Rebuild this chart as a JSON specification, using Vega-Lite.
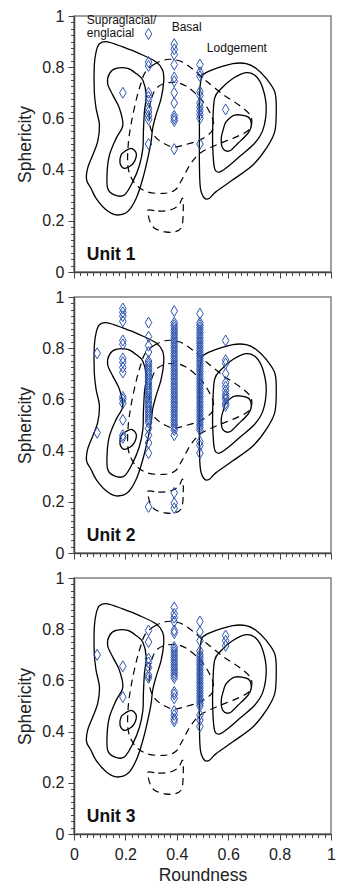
{
"$schema": "https://vega.github.io/schema/vega-lite/v6.json",
"background": "white",
"padding": {"left": 16, "top": 7, "right": 12, "bottom": 5},
"spacing": 25,
"bounds": "flush",
"config": {
 "font": "Liberation Sans",
 "view": {"stroke": "#808080", "strokeWidth": 1.5},
 "axis": {"grid": false, "domainColor": "#444", "domainWidth": 1.5, "tickColor": "#444", "labelColor": "#222", "titleColor": "#222", "labelFontSize": 16, "titleFontSize": 17.5, "titleFontWeight": "normal", "labelFont": "Liberation Sans", "titleFont": "Liberation Sans", "labelOverlap": false, "labelFlush": false}
},
"datasets": {
 "contours": [
  {"c":1,"s":"solid","i":1,"x":0.086,"y":0.86},{"c":1,"s":"solid","i":2,"x":0.099,"y":0.892},{"c":1,"s":"solid","i":3,"x":0.131,"y":0.899},{"c":1,"s":"solid","i":4,"x":0.19,"y":0.879},{"c":1,"s":"solid","i":5,"x":0.255,"y":0.853},{"c":1,"s":"solid","i":6,"x":0.319,"y":0.821},{"c":1,"s":"solid","i":7,"x":0.345,"y":0.788},{"c":1,"s":"solid","i":8,"x":0.349,"y":0.743},{"c":1,"s":"solid","i":9,"x":0.339,"y":0.678},{"c":1,"s":"solid","i":10,"x":0.319,"y":0.613},{"c":1,"s":"solid","i":11,"x":0.306,"y":0.561},{"c":1,"s":"solid","i":12,"x":0.3,"y":0.509},{"c":1,"s":"solid","i":13,"x":0.287,"y":0.444},{"c":1,"s":"solid","i":14,"x":0.268,"y":0.366},{"c":1,"s":"solid","i":15,"x":0.242,"y":0.288},{"c":1,"s":"solid","i":16,"x":0.209,"y":0.236},{"c":1,"s":"solid","i":17,"x":0.164,"y":0.223},{"c":1,"s":"solid","i":18,"x":0.125,"y":0.243},{"c":1,"s":"solid","i":19,"x":0.086,"y":0.288},{"c":1,"s":"solid","i":20,"x":0.066,"y":0.327},{"c":1,"s":"solid","i":21,"x":0.049,"y":0.36},{"c":1,"s":"solid","i":22,"x":0.053,"y":0.405},{"c":1,"s":"solid","i":23,"x":0.073,"y":0.457},{"c":1,"s":"solid","i":24,"x":0.092,"y":0.509},{"c":1,"s":"solid","i":25,"x":0.099,"y":0.574},{"c":1,"s":"solid","i":26,"x":0.086,"y":0.639},{"c":1,"s":"solid","i":27,"x":0.079,"y":0.704},{"c":1,"s":"solid","i":28,"x":0.079,"y":0.808},
  {"c":2,"s":"solid","i":1,"x":0.138,"y":0.775},{"c":2,"s":"solid","i":2,"x":0.164,"y":0.795},{"c":2,"s":"solid","i":3,"x":0.209,"y":0.795},{"c":2,"s":"solid","i":4,"x":0.242,"y":0.775},{"c":2,"s":"solid","i":5,"x":0.268,"y":0.749},{"c":2,"s":"solid","i":6,"x":0.281,"y":0.691},{"c":2,"s":"solid","i":7,"x":0.274,"y":0.626},{"c":2,"s":"solid","i":8,"x":0.27,"y":0.548},{"c":2,"s":"solid","i":9,"x":0.268,"y":0.483},{"c":2,"s":"solid","i":10,"x":0.255,"y":0.418},{"c":2,"s":"solid","i":11,"x":0.229,"y":0.353},{"c":2,"s":"solid","i":12,"x":0.196,"y":0.301},{"c":2,"s":"solid","i":13,"x":0.157,"y":0.301},{"c":2,"s":"solid","i":14,"x":0.131,"y":0.327},{"c":2,"s":"solid","i":15,"x":0.129,"y":0.392},{"c":2,"s":"solid","i":16,"x":0.138,"y":0.457},{"c":2,"s":"solid","i":17,"x":0.164,"y":0.522},{"c":2,"s":"solid","i":18,"x":0.19,"y":0.574},{"c":2,"s":"solid","i":19,"x":0.177,"y":0.639},{"c":2,"s":"solid","i":20,"x":0.151,"y":0.691},{"c":2,"s":"solid","i":21,"x":0.131,"y":0.736},
  {"c":3,"s":"solid","i":1,"x":0.196,"y":0.47},{"c":3,"s":"solid","i":2,"x":0.222,"y":0.483},{"c":3,"s":"solid","i":3,"x":0.242,"y":0.464},{"c":3,"s":"solid","i":4,"x":0.235,"y":0.431},{"c":3,"s":"solid","i":5,"x":0.216,"y":0.412},{"c":3,"s":"solid","i":6,"x":0.194,"y":0.405},{"c":3,"s":"solid","i":7,"x":0.179,"y":0.425},{"c":3,"s":"solid","i":8,"x":0.183,"y":0.457},
  {"c":4,"s":"solid","i":1,"x":0.495,"y":0.756},{"c":4,"s":"solid","i":2,"x":0.508,"y":0.775},{"c":4,"s":"solid","i":3,"x":0.553,"y":0.795},{"c":4,"s":"solid","i":4,"x":0.618,"y":0.814},{"c":4,"s":"solid","i":5,"x":0.67,"y":0.814},{"c":4,"s":"solid","i":6,"x":0.709,"y":0.795},{"c":4,"s":"solid","i":7,"x":0.748,"y":0.756},{"c":4,"s":"solid","i":8,"x":0.781,"y":0.704},{"c":4,"s":"solid","i":9,"x":0.787,"y":0.639},{"c":4,"s":"solid","i":10,"x":0.781,"y":0.548},{"c":4,"s":"solid","i":11,"x":0.748,"y":0.483},{"c":4,"s":"solid","i":12,"x":0.696,"y":0.418},{"c":4,"s":"solid","i":13,"x":0.618,"y":0.36},{"c":4,"s":"solid","i":14,"x":0.553,"y":0.314},{"c":4,"s":"solid","i":15,"x":0.527,"y":0.288},{"c":4,"s":"solid","i":16,"x":0.508,"y":0.288},{"c":4,"s":"solid","i":17,"x":0.492,"y":0.327},{"c":4,"s":"solid","i":18,"x":0.488,"y":0.418},{"c":4,"s":"solid","i":19,"x":0.488,"y":0.548},{"c":4,"s":"solid","i":20,"x":0.488,"y":0.678},
  {"c":5,"s":"solid","i":1,"x":0.547,"y":0.678},{"c":5,"s":"solid","i":2,"x":0.573,"y":0.717},{"c":5,"s":"solid","i":3,"x":0.618,"y":0.756},{"c":5,"s":"solid","i":4,"x":0.67,"y":0.779},{"c":5,"s":"solid","i":5,"x":0.709,"y":0.764},{"c":5,"s":"solid","i":6,"x":0.735,"y":0.717},{"c":5,"s":"solid","i":7,"x":0.748,"y":0.639},{"c":5,"s":"solid","i":8,"x":0.735,"y":0.555},{"c":5,"s":"solid","i":9,"x":0.703,"y":0.503},{"c":5,"s":"solid","i":10,"x":0.644,"y":0.451},{"c":5,"s":"solid","i":11,"x":0.599,"y":0.412},{"c":5,"s":"solid","i":12,"x":0.566,"y":0.39},{"c":5,"s":"solid","i":13,"x":0.547,"y":0.405},{"c":5,"s":"solid","i":14,"x":0.54,"y":0.483},{"c":5,"s":"solid","i":15,"x":0.54,"y":0.574},
  {"c":6,"s":"solid","i":1,"x":0.592,"y":0.587},{"c":6,"s":"solid","i":2,"x":0.625,"y":0.613},{"c":6,"s":"solid","i":3,"x":0.677,"y":0.606},{"c":6,"s":"solid","i":4,"x":0.69,"y":0.574},{"c":6,"s":"solid","i":5,"x":0.677,"y":0.542},{"c":6,"s":"solid","i":6,"x":0.638,"y":0.503},{"c":6,"s":"solid","i":7,"x":0.605,"y":0.473},{"c":6,"s":"solid","i":8,"x":0.579,"y":0.483},{"c":6,"s":"solid","i":9,"x":0.573,"y":0.522},{"c":6,"s":"solid","i":10,"x":0.582,"y":0.561},
  {"c":7,"s":"dashed","i":1,"x":0.276,"y":0.778},{"c":7,"s":"dashed","i":2,"x":0.309,"y":0.81},{"c":7,"s":"dashed","i":3,"x":0.361,"y":0.83},{"c":7,"s":"dashed","i":4,"x":0.412,"y":0.824},{"c":7,"s":"dashed","i":5,"x":0.464,"y":0.791},{"c":7,"s":"dashed","i":6,"x":0.516,"y":0.745},{"c":7,"s":"dashed","i":7,"x":0.581,"y":0.693},{"c":7,"s":"dashed","i":8,"x":0.639,"y":0.654},{"c":7,"s":"dashed","i":9,"x":0.685,"y":0.614},{"c":7,"s":"dashed","i":10,"x":0.691,"y":0.575},{"c":7,"s":"dashed","i":11,"x":0.672,"y":0.549},{"c":7,"s":"dashed","i":12,"x":0.62,"y":0.523},{"c":7,"s":"dashed","i":13,"x":0.555,"y":0.497},{"c":7,"s":"dashed","i":14,"x":0.49,"y":0.464},{"c":7,"s":"dashed","i":15,"x":0.451,"y":0.418},{"c":7,"s":"dashed","i":16,"x":0.419,"y":0.359},{"c":7,"s":"dashed","i":17,"x":0.393,"y":0.32},{"c":7,"s":"dashed","i":18,"x":0.348,"y":0.307},{"c":7,"s":"dashed","i":19,"x":0.283,"y":0.314},{"c":7,"s":"dashed","i":20,"x":0.237,"y":0.346},{"c":7,"s":"dashed","i":21,"x":0.211,"y":0.405},{"c":7,"s":"dashed","i":22,"x":0.211,"y":0.497},{"c":7,"s":"dashed","i":23,"x":0.224,"y":0.588},{"c":7,"s":"dashed","i":24,"x":0.244,"y":0.68},{"c":7,"s":"dashed","i":25,"x":0.263,"y":0.745},
  {"c":8,"s":"dashed","i":1,"x":0.293,"y":0.627},{"c":8,"s":"dashed","i":2,"x":0.302,"y":0.68},{"c":8,"s":"dashed","i":3,"x":0.328,"y":0.725},{"c":8,"s":"dashed","i":4,"x":0.387,"y":0.741},{"c":8,"s":"dashed","i":5,"x":0.438,"y":0.725},{"c":8,"s":"dashed","i":6,"x":0.49,"y":0.68},{"c":8,"s":"dashed","i":7,"x":0.523,"y":0.634},{"c":8,"s":"dashed","i":8,"x":0.542,"y":0.588},{"c":8,"s":"dashed","i":9,"x":0.536,"y":0.549},{"c":8,"s":"dashed","i":10,"x":0.49,"y":0.516},{"c":8,"s":"dashed","i":11,"x":0.432,"y":0.497},{"c":8,"s":"dashed","i":12,"x":0.387,"y":0.488},{"c":8,"s":"dashed","i":13,"x":0.348,"y":0.503},{"c":8,"s":"dashed","i":14,"x":0.315,"y":0.529},{"c":8,"s":"dashed","i":15,"x":0.296,"y":0.569},
  {"c":9,"s":"dashed","i":1,"x":0.289,"y":0.242},{"c":9,"s":"dashed","i":2,"x":0.328,"y":0.238},{"c":9,"s":"dashed","i":3,"x":0.374,"y":0.242},{"c":9,"s":"dashed","i":4,"x":0.406,"y":0.259},{"c":9,"s":"dashed","i":5,"x":0.423,"y":0.288},{"c":9,"s":"dashed","i":6,"x":0.425,"y":0.235},{"c":9,"s":"dashed","i":7,"x":0.419,"y":0.176},{"c":9,"s":"dashed","i":8,"x":0.393,"y":0.157},{"c":9,"s":"dashed","i":9,"x":0.354,"y":0.157},{"c":9,"s":"dashed","i":10,"x":0.315,"y":0.17},{"c":9,"s":"dashed","i":11,"x":0.296,"y":0.196},{"c":9,"s":"dashed","i":12,"x":0.289,"y":0.222}
 ],
 "pts": [
  {"u":1,"x":0.19,"y":0.70},
  {"u":1,"x":0.29,"y":0.93},{"u":1,"x":0.29,"y":0.82},{"u":1,"x":0.29,"y":0.805},{"u":1,"x":0.29,"y":0.70},{"u":1,"x":0.29,"y":0.685},{"u":1,"x":0.29,"y":0.67},{"u":1,"x":0.29,"y":0.64},{"u":1,"x":0.29,"y":0.625},{"u":1,"x":0.29,"y":0.61},{"u":1,"x":0.29,"y":0.595},{"u":1,"x":0.29,"y":0.50},
  {"u":1,"x":0.39,"y":0.89},{"u":1,"x":0.39,"y":0.87},{"u":1,"x":0.39,"y":0.85},{"u":1,"x":0.39,"y":0.81},{"u":1,"x":0.39,"y":0.76},{"u":1,"x":0.39,"y":0.745},{"u":1,"x":0.39,"y":0.70},{"u":1,"x":0.39,"y":0.66},{"u":1,"x":0.39,"y":0.61},{"u":1,"x":0.39,"y":0.60},{"u":1,"x":0.39,"y":0.59},{"u":1,"x":0.39,"y":0.48},
  {"u":1,"x":0.49,"y":0.81},{"u":1,"x":0.49,"y":0.78},{"u":1,"x":0.49,"y":0.765},{"u":1,"x":0.49,"y":0.705},{"u":1,"x":0.49,"y":0.69},{"u":1,"x":0.49,"y":0.66},{"u":1,"x":0.49,"y":0.645},{"u":1,"x":0.49,"y":0.63},{"u":1,"x":0.49,"y":0.615},{"u":1,"x":0.49,"y":0.60},{"u":1,"x":0.49,"y":0.50},
  {"u":1,"x":0.59,"y":0.635},
  {"u":2,"x":0.09,"y":0.78},{"u":2,"x":0.09,"y":0.47},
  {"u":2,"x":0.19,"y":0.955},{"u":2,"x":0.19,"y":0.94},{"u":2,"x":0.19,"y":0.925},{"u":2,"x":0.19,"y":0.905},{"u":2,"x":0.19,"y":0.83},{"u":2,"x":0.19,"y":0.815},{"u":2,"x":0.19,"y":0.76},{"u":2,"x":0.19,"y":0.745},{"u":2,"x":0.19,"y":0.725},{"u":2,"x":0.19,"y":0.705},{"u":2,"x":0.19,"y":0.61},{"u":2,"x":0.19,"y":0.60},{"u":2,"x":0.19,"y":0.585},{"u":2,"x":0.19,"y":0.52},{"u":2,"x":0.19,"y":0.46},{"u":2,"x":0.19,"y":0.45},
  {"u":2,"x":0.29,"y":0.90},{"u":2,"x":0.29,"y":0.845},{"u":2,"x":0.29,"y":0.81},{"u":2,"x":0.29,"y":0.785},{"u":2,"x":0.29,"y":0.75},{"u":2,"x":0.29,"y":0.74},{"u":2,"x":0.29,"y":0.73},{"u":2,"x":0.29,"y":0.72},{"u":2,"x":0.29,"y":0.71},{"u":2,"x":0.29,"y":0.70},{"u":2,"x":0.29,"y":0.69},{"u":2,"x":0.29,"y":0.68},{"u":2,"x":0.29,"y":0.67},{"u":2,"x":0.29,"y":0.66},{"u":2,"x":0.29,"y":0.65},{"u":2,"x":0.29,"y":0.64},{"u":2,"x":0.29,"y":0.63},{"u":2,"x":0.29,"y":0.62},{"u":2,"x":0.29,"y":0.61},{"u":2,"x":0.29,"y":0.60},{"u":2,"x":0.29,"y":0.59},{"u":2,"x":0.29,"y":0.58},{"u":2,"x":0.29,"y":0.57},{"u":2,"x":0.29,"y":0.56},{"u":2,"x":0.29,"y":0.55},{"u":2,"x":0.29,"y":0.54},{"u":2,"x":0.29,"y":0.53},{"u":2,"x":0.29,"y":0.52},{"u":2,"x":0.29,"y":0.51},{"u":2,"x":0.29,"y":0.487},{"u":2,"x":0.29,"y":0.46},{"u":2,"x":0.29,"y":0.43},{"u":2,"x":0.29,"y":0.39},{"u":2,"x":0.29,"y":0.18},
  {"u":2,"x":0.39,"y":0.945},{"u":2,"x":0.39,"y":0.90},{"u":2,"x":0.39,"y":0.89},{"u":2,"x":0.39,"y":0.88},{"u":2,"x":0.39,"y":0.87},{"u":2,"x":0.39,"y":0.86},{"u":2,"x":0.39,"y":0.85},{"u":2,"x":0.39,"y":0.84},{"u":2,"x":0.39,"y":0.83},{"u":2,"x":0.39,"y":0.82},{"u":2,"x":0.39,"y":0.81},{"u":2,"x":0.39,"y":0.80},{"u":2,"x":0.39,"y":0.79},{"u":2,"x":0.39,"y":0.78},{"u":2,"x":0.39,"y":0.77},{"u":2,"x":0.39,"y":0.76},{"u":2,"x":0.39,"y":0.75},{"u":2,"x":0.39,"y":0.74},{"u":2,"x":0.39,"y":0.73},{"u":2,"x":0.39,"y":0.72},{"u":2,"x":0.39,"y":0.71},{"u":2,"x":0.39,"y":0.70},{"u":2,"x":0.39,"y":0.69},{"u":2,"x":0.39,"y":0.68},{"u":2,"x":0.39,"y":0.67},{"u":2,"x":0.39,"y":0.66},{"u":2,"x":0.39,"y":0.65},{"u":2,"x":0.39,"y":0.64},{"u":2,"x":0.39,"y":0.63},{"u":2,"x":0.39,"y":0.62},{"u":2,"x":0.39,"y":0.61},{"u":2,"x":0.39,"y":0.60},{"u":2,"x":0.39,"y":0.59},{"u":2,"x":0.39,"y":0.58},{"u":2,"x":0.39,"y":0.57},{"u":2,"x":0.39,"y":0.56},{"u":2,"x":0.39,"y":0.55},{"u":2,"x":0.39,"y":0.54},{"u":2,"x":0.39,"y":0.53},{"u":2,"x":0.39,"y":0.52},{"u":2,"x":0.39,"y":0.51},{"u":2,"x":0.39,"y":0.50},{"u":2,"x":0.39,"y":0.49},{"u":2,"x":0.39,"y":0.48},{"u":2,"x":0.39,"y":0.46},{"u":2,"x":0.39,"y":0.235},{"u":2,"x":0.39,"y":0.195},{"u":2,"x":0.39,"y":0.175},
  {"u":2,"x":0.49,"y":0.935},{"u":2,"x":0.49,"y":0.90},{"u":2,"x":0.49,"y":0.89},{"u":2,"x":0.49,"y":0.88},{"u":2,"x":0.49,"y":0.87},{"u":2,"x":0.49,"y":0.86},{"u":2,"x":0.49,"y":0.85},{"u":2,"x":0.49,"y":0.84},{"u":2,"x":0.49,"y":0.83},{"u":2,"x":0.49,"y":0.82},{"u":2,"x":0.49,"y":0.81},{"u":2,"x":0.49,"y":0.80},{"u":2,"x":0.49,"y":0.79},{"u":2,"x":0.49,"y":0.78},{"u":2,"x":0.49,"y":0.77},{"u":2,"x":0.49,"y":0.76},{"u":2,"x":0.49,"y":0.75},{"u":2,"x":0.49,"y":0.74},{"u":2,"x":0.49,"y":0.73},{"u":2,"x":0.49,"y":0.72},{"u":2,"x":0.49,"y":0.71},{"u":2,"x":0.49,"y":0.70},{"u":2,"x":0.49,"y":0.69},{"u":2,"x":0.49,"y":0.68},{"u":2,"x":0.49,"y":0.67},{"u":2,"x":0.49,"y":0.66},{"u":2,"x":0.49,"y":0.65},{"u":2,"x":0.49,"y":0.64},{"u":2,"x":0.49,"y":0.63},{"u":2,"x":0.49,"y":0.62},{"u":2,"x":0.49,"y":0.61},{"u":2,"x":0.49,"y":0.60},{"u":2,"x":0.49,"y":0.59},{"u":2,"x":0.49,"y":0.58},{"u":2,"x":0.49,"y":0.57},{"u":2,"x":0.49,"y":0.56},{"u":2,"x":0.49,"y":0.55},{"u":2,"x":0.49,"y":0.54},{"u":2,"x":0.49,"y":0.53},{"u":2,"x":0.49,"y":0.52},{"u":2,"x":0.49,"y":0.51},{"u":2,"x":0.49,"y":0.50},{"u":2,"x":0.49,"y":0.49},{"u":2,"x":0.49,"y":0.48},{"u":2,"x":0.49,"y":0.435},{"u":2,"x":0.49,"y":0.42},{"u":2,"x":0.49,"y":0.39},
  {"u":2,"x":0.59,"y":0.83},{"u":2,"x":0.59,"y":0.753},{"u":2,"x":0.59,"y":0.74},{"u":2,"x":0.59,"y":0.70},{"u":2,"x":0.59,"y":0.665},{"u":2,"x":0.59,"y":0.65},{"u":2,"x":0.59,"y":0.635},{"u":2,"x":0.59,"y":0.62},{"u":2,"x":0.59,"y":0.61},{"u":2,"x":0.59,"y":0.60},{"u":2,"x":0.59,"y":0.585},{"u":2,"x":0.59,"y":0.575},
  {"u":3,"x":0.09,"y":0.70},
  {"u":3,"x":0.19,"y":0.655},{"u":3,"x":0.19,"y":0.535},
  {"u":3,"x":0.29,"y":0.795},{"u":3,"x":0.29,"y":0.75},{"u":3,"x":0.29,"y":0.685},{"u":3,"x":0.29,"y":0.67},{"u":3,"x":0.29,"y":0.65},{"u":3,"x":0.29,"y":0.62},{"u":3,"x":0.29,"y":0.61},
  {"u":3,"x":0.39,"y":0.885},{"u":3,"x":0.39,"y":0.86},{"u":3,"x":0.39,"y":0.845},{"u":3,"x":0.39,"y":0.83},{"u":3,"x":0.39,"y":0.795},{"u":3,"x":0.39,"y":0.785},{"u":3,"x":0.39,"y":0.73},{"u":3,"x":0.39,"y":0.72},{"u":3,"x":0.39,"y":0.71},{"u":3,"x":0.39,"y":0.70},{"u":3,"x":0.39,"y":0.69},{"u":3,"x":0.39,"y":0.68},{"u":3,"x":0.39,"y":0.67},{"u":3,"x":0.39,"y":0.66},{"u":3,"x":0.39,"y":0.65},{"u":3,"x":0.39,"y":0.64},{"u":3,"x":0.39,"y":0.63},{"u":3,"x":0.39,"y":0.62},{"u":3,"x":0.39,"y":0.61},{"u":3,"x":0.39,"y":0.555},{"u":3,"x":0.39,"y":0.545},{"u":3,"x":0.39,"y":0.53},{"u":3,"x":0.39,"y":0.48},{"u":3,"x":0.39,"y":0.465},{"u":3,"x":0.39,"y":0.45},{"u":3,"x":0.39,"y":0.44},
  {"u":3,"x":0.49,"y":0.83},{"u":3,"x":0.49,"y":0.79},{"u":3,"x":0.49,"y":0.755},{"u":3,"x":0.49,"y":0.715},{"u":3,"x":0.49,"y":0.70},{"u":3,"x":0.49,"y":0.69},{"u":3,"x":0.49,"y":0.68},{"u":3,"x":0.49,"y":0.67},{"u":3,"x":0.49,"y":0.66},{"u":3,"x":0.49,"y":0.65},{"u":3,"x":0.49,"y":0.64},{"u":3,"x":0.49,"y":0.63},{"u":3,"x":0.49,"y":0.62},{"u":3,"x":0.49,"y":0.61},{"u":3,"x":0.49,"y":0.60},{"u":3,"x":0.49,"y":0.59},{"u":3,"x":0.49,"y":0.58},{"u":3,"x":0.49,"y":0.57},{"u":3,"x":0.49,"y":0.56},{"u":3,"x":0.49,"y":0.55},{"u":3,"x":0.49,"y":0.54},{"u":3,"x":0.49,"y":0.53},{"u":3,"x":0.49,"y":0.52},{"u":3,"x":0.49,"y":0.51},{"u":3,"x":0.49,"y":0.50},{"u":3,"x":0.49,"y":0.465},{"u":3,"x":0.49,"y":0.445},{"u":3,"x":0.49,"y":0.42},
  {"u":3,"x":0.59,"y":0.775},{"u":3,"x":0.59,"y":0.755},{"u":3,"x":0.59,"y":0.735}
 ],
 "units": [
  {"u":1,"x":0.05,"y":0.047,"t":"Unit 1"},{"u":2,"x":0.05,"y":0.047,"t":"Unit 2"},{"u":3,"x":0.05,"y":0.047,"t":"Unit 3"}
 ],
 "notes": [
  {"x":0.05,"y":0.968,"t":"Supraglacial/"},{"x":0.05,"y":0.918,"t":"englacial"},{"x":0.38,"y":0.94,"t":"Basal"},{"x":0.517,"y":0.86,"t":"Lodgement"}
 ]
},
"vconcat": [
 {
  "width": 257, "height": 256,
  "layer": [
   {"data": {"name": "contours"}, "transform": [{"filter": "datum.s === 'solid'"}],
    "mark": {"type": "line", "interpolate": "cardinal-closed", "stroke": "#000", "strokeWidth": 1.3},
    "encoding": {
     "x": {"field": "x", "type": "quantitative", "scale": {"domain": [0, 1], "nice": false}, "axis": {"orient": "bottom", "values": [0,0.025,0.05,0.075,0.1,0.125,0.15,0.175,0.2,0.225,0.25,0.275,0.3,0.325,0.35,0.375,0.4,0.425,0.45,0.475,0.5,0.525,0.55,0.575,0.6,0.625,0.65,0.675,0.7,0.725,0.75,0.775,0.8,0.825,0.85,0.875,0.9,0.925,0.95,0.975,1], "labels": false, "title": null, "domain": false, "tickSize": 3.5}},
     "y": {"field": "y", "type": "quantitative", "scale": {"domain": [0, 1], "nice": false}, "axis": {"orient": "left", "values": [0,0.025,0.05,0.075,0.1,0.125,0.15,0.175,0.2,0.225,0.25,0.275,0.3,0.325,0.35,0.375,0.4,0.425,0.45,0.475,0.5,0.525,0.55,0.575,0.6,0.625,0.65,0.675,0.7,0.725,0.75,0.775,0.8,0.825,0.85,0.875,0.9,0.925,0.95,0.975,1], "labels": false, "title": null, "domain": false, "tickSize": 3.5}},
     "detail": {"field": "c"}, "order": {"field": "i"}}},
   {"data": {"name": "contours"}, "transform": [{"filter": "datum.s === 'dashed'"}],
    "mark": {"type": "line", "interpolate": "cardinal-closed", "stroke": "#000", "strokeWidth": 1.2, "strokeDash": [7, 5]},
    "encoding": {
     "x": {"field": "x", "type": "quantitative", "axis": {"orient": "bottom", "values": [0,0.2,0.4,0.6,0.8,1], "labels": false, "title": null, "tickSize": 6}},
     "y": {"field": "y", "type": "quantitative", "axis": {"orient": "left", "values": [0,0.2,0.4,0.6,0.8,1], "format": "~g", "title": "Sphericity", "tickSize": 6, "labelPadding": 4, "titlePadding": 7}},
     "detail": {"field": "c"}, "order": {"field": "i"}}},
   {"data": {"name": "pts"}, "transform": [{"filter": "datum.u === 1"}],
    "mark": {"type": "point", "shape": "M0,-1L0.6,0L0,1L-0.6,0Z", "size": 121, "filled": false, "stroke": "#2f55b0", "strokeWidth": 1, "opacity": 1},
    "encoding": {"x": {"field": "x", "type": "quantitative", "axis": null}, "y": {"field": "y", "type": "quantitative", "axis": null}}},
   {"data": {"name": "units"}, "transform": [{"filter": "datum.u === 1"}],
    "mark": {"type": "text", "align": "left", "baseline": "alphabetic", "fontSize": 17.5, "fontWeight": "bold", "color": "#111"},
    "encoding": {"x": {"field": "x", "type": "quantitative", "axis": null}, "y": {"field": "y", "type": "quantitative", "axis": null}, "text": {"field": "t"}}},
   {"data": {"name": "notes"},
    "mark": {"type": "text", "align": "left", "baseline": "alphabetic", "fontSize": 12, "color": "#111"},
    "encoding": {"x": {"field": "x", "type": "quantitative", "axis": null}, "y": {"field": "y", "type": "quantitative", "axis": null}, "text": {"field": "t"}}}
  ],
  "resolve": {"axis": {"x": "independent", "y": "independent"}}
 },
 {
  "width": 257, "height": 256,
  "layer": [
   {"data": {"name": "contours"}, "transform": [{"filter": "datum.s === 'solid'"}],
    "mark": {"type": "line", "interpolate": "cardinal-closed", "stroke": "#000", "strokeWidth": 1.3},
    "encoding": {
     "x": {"field": "x", "type": "quantitative", "scale": {"domain": [0, 1], "nice": false}, "axis": {"orient": "bottom", "values": [0,0.025,0.05,0.075,0.1,0.125,0.15,0.175,0.2,0.225,0.25,0.275,0.3,0.325,0.35,0.375,0.4,0.425,0.45,0.475,0.5,0.525,0.55,0.575,0.6,0.625,0.65,0.675,0.7,0.725,0.75,0.775,0.8,0.825,0.85,0.875,0.9,0.925,0.95,0.975,1], "labels": false, "title": null, "domain": false, "tickSize": 3.5}},
     "y": {"field": "y", "type": "quantitative", "scale": {"domain": [0, 1], "nice": false}, "axis": {"orient": "left", "values": [0,0.025,0.05,0.075,0.1,0.125,0.15,0.175,0.2,0.225,0.25,0.275,0.3,0.325,0.35,0.375,0.4,0.425,0.45,0.475,0.5,0.525,0.55,0.575,0.6,0.625,0.65,0.675,0.7,0.725,0.75,0.775,0.8,0.825,0.85,0.875,0.9,0.925,0.95,0.975,1], "labels": false, "title": null, "domain": false, "tickSize": 3.5}},
     "detail": {"field": "c"}, "order": {"field": "i"}}},
   {"data": {"name": "contours"}, "transform": [{"filter": "datum.s === 'dashed'"}],
    "mark": {"type": "line", "interpolate": "cardinal-closed", "stroke": "#000", "strokeWidth": 1.2, "strokeDash": [7, 5]},
    "encoding": {
     "x": {"field": "x", "type": "quantitative", "axis": {"orient": "bottom", "values": [0,0.2,0.4,0.6,0.8,1], "labels": false, "title": null, "tickSize": 6}},
     "y": {"field": "y", "type": "quantitative", "axis": {"orient": "left", "values": [0,0.2,0.4,0.6,0.8,1], "format": "~g", "title": "Sphericity", "tickSize": 6, "labelPadding": 4, "titlePadding": 7}},
     "detail": {"field": "c"}, "order": {"field": "i"}}},
   {"data": {"name": "pts"}, "transform": [{"filter": "datum.u === 2"}],
    "mark": {"type": "point", "shape": "M0,-1L0.6,0L0,1L-0.6,0Z", "size": 121, "filled": false, "stroke": "#2f55b0", "strokeWidth": 1, "opacity": 1},
    "encoding": {"x": {"field": "x", "type": "quantitative", "axis": null}, "y": {"field": "y", "type": "quantitative", "axis": null}}},
   {"data": {"name": "units"}, "transform": [{"filter": "datum.u === 2"}],
    "mark": {"type": "text", "align": "left", "baseline": "alphabetic", "fontSize": 17.5, "fontWeight": "bold", "color": "#111"},
    "encoding": {"x": {"field": "x", "type": "quantitative", "axis": null}, "y": {"field": "y", "type": "quantitative", "axis": null}, "text": {"field": "t"}}}
  ],
  "resolve": {"axis": {"x": "independent", "y": "independent"}}
 },
 {
  "width": 257, "height": 256,
  "layer": [
   {"data": {"name": "contours"}, "transform": [{"filter": "datum.s === 'solid'"}],
    "mark": {"type": "line", "interpolate": "cardinal-closed", "stroke": "#000", "strokeWidth": 1.3},
    "encoding": {
     "x": {"field": "x", "type": "quantitative", "scale": {"domain": [0, 1], "nice": false}, "axis": {"orient": "bottom", "values": [0,0.025,0.05,0.075,0.1,0.125,0.15,0.175,0.2,0.225,0.25,0.275,0.3,0.325,0.35,0.375,0.4,0.425,0.45,0.475,0.5,0.525,0.55,0.575,0.6,0.625,0.65,0.675,0.7,0.725,0.75,0.775,0.8,0.825,0.85,0.875,0.9,0.925,0.95,0.975,1], "labels": false, "title": null, "domain": false, "tickSize": 3.5}},
     "y": {"field": "y", "type": "quantitative", "scale": {"domain": [0, 1], "nice": false}, "axis": {"orient": "left", "values": [0,0.025,0.05,0.075,0.1,0.125,0.15,0.175,0.2,0.225,0.25,0.275,0.3,0.325,0.35,0.375,0.4,0.425,0.45,0.475,0.5,0.525,0.55,0.575,0.6,0.625,0.65,0.675,0.7,0.725,0.75,0.775,0.8,0.825,0.85,0.875,0.9,0.925,0.95,0.975,1], "labels": false, "title": null, "domain": false, "tickSize": 3.5}},
     "detail": {"field": "c"}, "order": {"field": "i"}}},
   {"data": {"name": "contours"}, "transform": [{"filter": "datum.s === 'dashed'"}],
    "mark": {"type": "line", "interpolate": "cardinal-closed", "stroke": "#000", "strokeWidth": 1.2, "strokeDash": [7, 5]},
    "encoding": {
     "x": {"field": "x", "type": "quantitative", "axis": {"orient": "bottom", "values": [0,0.2,0.4,0.6,0.8,1], "format": "~g", "title": "Roundness", "tickSize": 6, "labelPadding": 6, "titlePadding": 4}},
     "y": {"field": "y", "type": "quantitative", "axis": {"orient": "left", "values": [0,0.2,0.4,0.6,0.8,1], "format": "~g", "title": "Sphericity", "tickSize": 6, "labelPadding": 4, "titlePadding": 7}},
     "detail": {"field": "c"}, "order": {"field": "i"}}},
   {"data": {"name": "pts"}, "transform": [{"filter": "datum.u === 3"}],
    "mark": {"type": "point", "shape": "M0,-1L0.6,0L0,1L-0.6,0Z", "size": 121, "filled": false, "stroke": "#2f55b0", "strokeWidth": 1, "opacity": 1},
    "encoding": {"x": {"field": "x", "type": "quantitative", "axis": null}, "y": {"field": "y", "type": "quantitative", "axis": null}}},
   {"data": {"name": "units"}, "transform": [{"filter": "datum.u === 3"}],
    "mark": {"type": "text", "align": "left", "baseline": "alphabetic", "fontSize": 17.5, "fontWeight": "bold", "color": "#111"},
    "encoding": {"x": {"field": "x", "type": "quantitative", "axis": null}, "y": {"field": "y", "type": "quantitative", "axis": null}, "text": {"field": "t"}}}
  ],
  "resolve": {"axis": {"x": "independent", "y": "independent"}}
 }
]
}
